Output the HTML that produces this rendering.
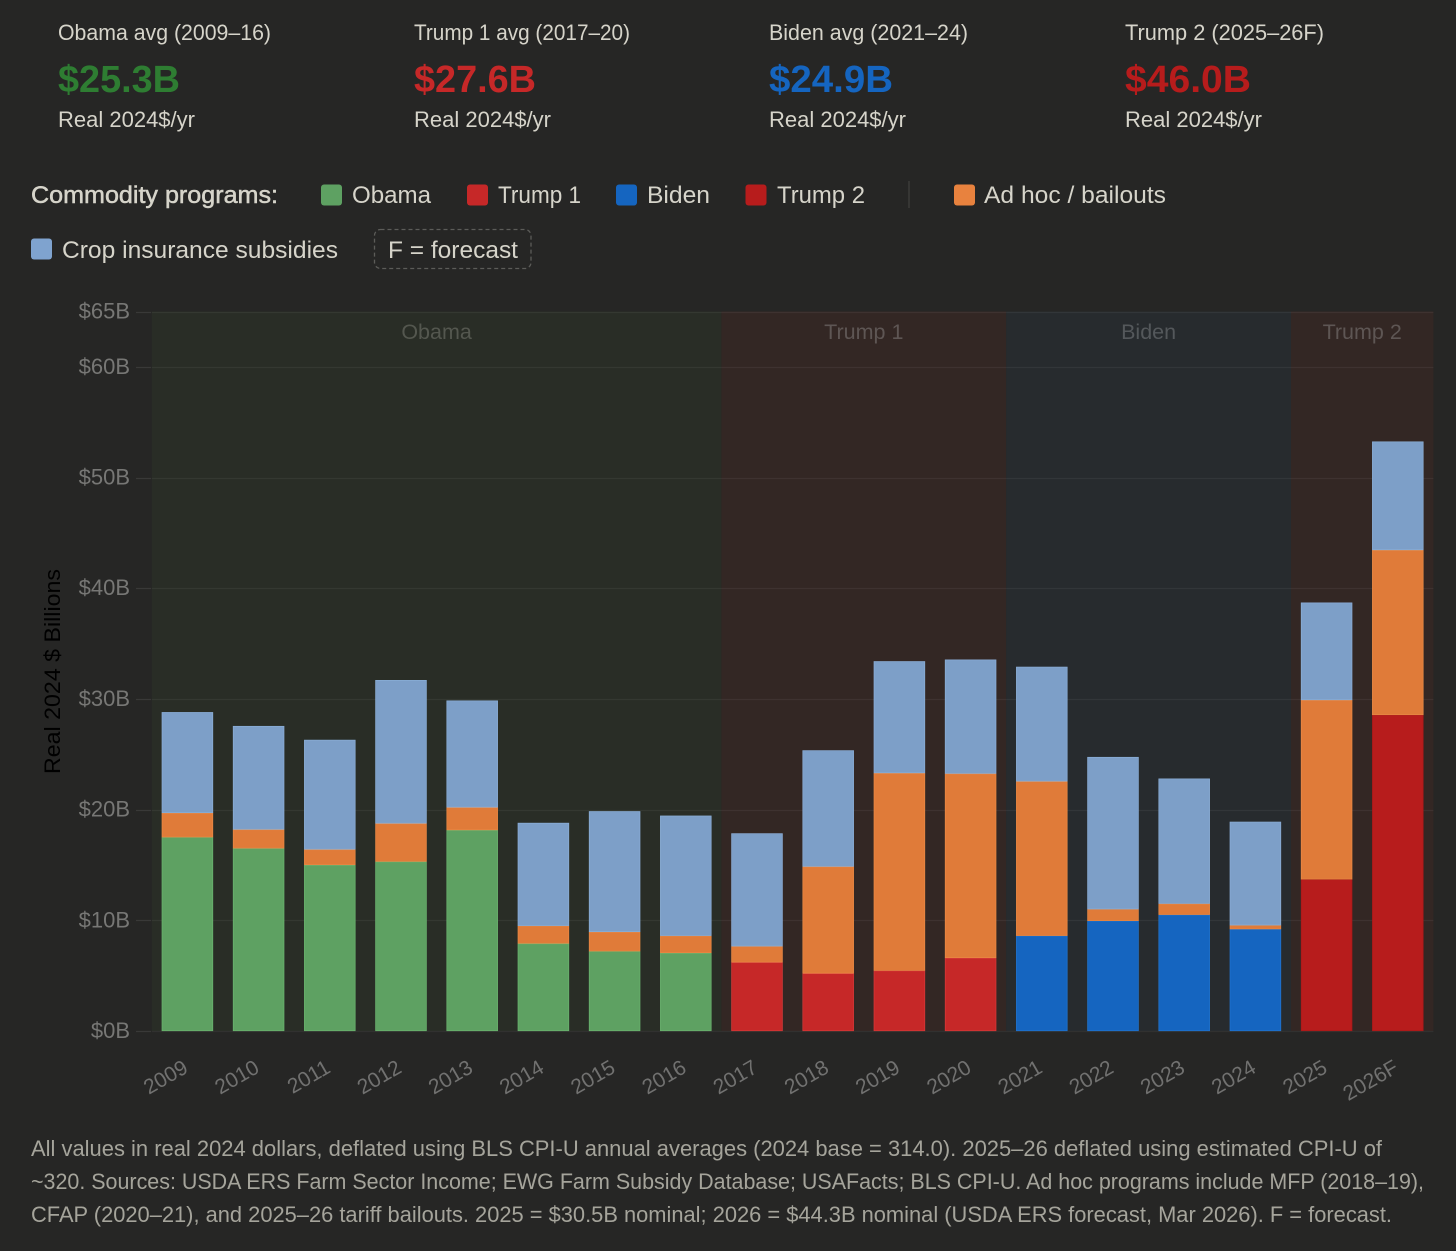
<!DOCTYPE html>
<html lang="en">
<head>
<meta charset="utf-8">
<title>Farm subsidies by administration</title>
<style>
  html, body { margin: 0; padding: 0; background: #262625; }
  body { width: 1456px; height: 1251px; overflow: hidden; }
  svg { display: block; }
  text { font-family: "Liberation Sans", sans-serif; }
  .label { fill: #d6d4ca; font-size: 22px; }
  .big { font-size: 38px; font-weight: 700; }
  .legend { fill: #d6d4ca; font-size: 24px; }
  .note { fill: #a5a49b; font-size: 22px; }
</style>
</head>
<body>
<svg id="chart" width="1456" height="1251" viewBox="0 0 1456 1251" xmlns="http://www.w3.org/2000/svg">
  <rect width="1456" height="1251" fill="#262625"/>

  <g>
    <text class="label" x="58" y="40" textLength="213" lengthAdjust="spacingAndGlyphs">Obama avg (2009–16)</text>
    <text class="big" x="58" y="92" fill="#2e7d32" textLength="122" lengthAdjust="spacingAndGlyphs">$25.3B</text>
    <text class="label" x="58" y="127" textLength="137" lengthAdjust="spacingAndGlyphs">Real 2024$/yr</text>
  </g>
  <g>
    <text class="label" x="414" y="40" textLength="216" lengthAdjust="spacingAndGlyphs">Trump 1 avg (2017–20)</text>
    <text class="big" x="414" y="92" fill="#c62828" textLength="122" lengthAdjust="spacingAndGlyphs">$27.6B</text>
    <text class="label" x="414" y="127" textLength="137" lengthAdjust="spacingAndGlyphs">Real 2024$/yr</text>
  </g>
  <g>
    <text class="label" x="769" y="40" textLength="199" lengthAdjust="spacingAndGlyphs">Biden avg (2021–24)</text>
    <text class="big" x="769" y="92" fill="#1565c0" textLength="124" lengthAdjust="spacingAndGlyphs">$24.9B</text>
    <text class="label" x="769" y="127" textLength="137" lengthAdjust="spacingAndGlyphs">Real 2024$/yr</text>
  </g>
  <g>
    <text class="label" x="1125" y="40" textLength="199" lengthAdjust="spacingAndGlyphs">Trump 2 (2025–26F)</text>
    <text class="big" x="1125" y="92" fill="#b71c1c" textLength="126" lengthAdjust="spacingAndGlyphs">$46.0B</text>
    <text class="label" x="1125" y="127" textLength="137" lengthAdjust="spacingAndGlyphs">Real 2024$/yr</text>
  </g>

  <g>
    <text class="legend" x="31" y="203" stroke="#d6d4ca" stroke-width="0.5" textLength="247" lengthAdjust="spacingAndGlyphs">Commodity programs:</text>
    <g>
      <rect x="321" y="184.500" width="21" height="21" rx="3" fill="#5ea162"/>
      <text class="legend" x="352" y="203" textLength="79" lengthAdjust="spacingAndGlyphs">Obama</text>
    </g>
    <g>
      <rect x="467" y="184.500" width="21" height="21" rx="3" fill="#c62828"/>
      <text class="legend" x="498" y="203" textLength="83" lengthAdjust="spacingAndGlyphs">Trump 1</text>
    </g>
    <g>
      <rect x="616" y="184.500" width="21" height="21" rx="3" fill="#1565c0"/>
      <text class="legend" x="647" y="203" textLength="63" lengthAdjust="spacingAndGlyphs">Biden</text>
    </g>
    <g>
      <rect x="745.500" y="184.500" width="21" height="21" rx="3" fill="#b71c1c"/>
      <text class="legend" x="777" y="203" textLength="88" lengthAdjust="spacingAndGlyphs">Trump 2</text>
    </g>
    <line x1="909" x2="909" y1="181" y2="208" stroke="#454543" stroke-width="1"/>
    <g>
      <rect x="954" y="184.500" width="21" height="21" rx="3" fill="#e8823e"/>
      <text class="legend" x="984" y="203" textLength="182" lengthAdjust="spacingAndGlyphs">Ad hoc / bailouts</text>
    </g>
    <g>
      <rect x="31" y="238.500" width="21" height="21" rx="3" fill="#7fa3cf"/>
      <text class="legend" x="62" y="258" textLength="276" lengthAdjust="spacingAndGlyphs">Crop insurance subsidies</text>
    </g>
    <g>
      <rect x="374.500" y="229.500" width="156.500" height="39" rx="6" fill="none" stroke="#5c5c59" stroke-width="1.300" stroke-dasharray="4 3"/>
      <text class="legend" x="388" y="258" textLength="130" lengthAdjust="spacingAndGlyphs">F = forecast</text>
    </g>
  </g>

  <g id="plot"></g>

  <text transform="translate(60,671.500) rotate(-90)" text-anchor="middle" font-size="22" fill="#000000" textLength="205" lengthAdjust="spacingAndGlyphs">Real 2024 $ Billions</text>

  <g>
    <text class="note" x="31" y="1156" textLength="1351" lengthAdjust="spacingAndGlyphs">All values in real 2024 dollars, deflated using BLS CPI-U annual averages (2024 base = 314.0). 2025–26 deflated using estimated CPI-U of</text>
    <text class="note" x="31" y="1189" textLength="1393" lengthAdjust="spacingAndGlyphs">~320. Sources: USDA ERS Farm Sector Income; EWG Farm Subsidy Database; USAFacts; BLS CPI-U. Ad hoc programs include MFP (2018–19),</text>
    <text class="note" x="31" y="1222" textLength="1361" lengthAdjust="spacingAndGlyphs">CFAP (2020–21), and 2025–26 tariff bailouts. 2025 = $30.5B nominal; 2026 = $44.3B nominal (USDA ERS forecast, Mar 2026). F = forecast.</text>
  </g>
</svg>

<script>
const years = ['2009','2010','2011','2012','2013','2014','2015','2016','2017','2018','2019','2020','2021','2022','2023','2024','2025','2026F'];
const commodity = [17.5,16.5,15.0,15.3,18.15,7.9,7.2,7.05,6.2,5.2,5.45,6.6,8.6,9.95,10.5,9.2,13.7,28.55];
const adHoc = [2.2,1.7,1.4,3.45,2.05,1.6,1.75,1.55,1.45,9.65,17.85,16.65,13.95,1.05,1.0,0.35,16.2,14.9];
const cropInsurance = [9.1,9.35,9.9,12.95,9.65,9.3,10.9,10.85,10.2,10.5,10.1,10.3,10.35,13.75,11.3,9.35,8.8,9.8];
const yTicks = [0,10,20,30,40,50,60,65];
const eraNames = ['Obama','Trump 1','Biden','Trump 2'];
const eraYears = [8,4,4,2];

const NS = 'http://www.w3.org/2000/svg';
const plot = document.getElementById('plot');
const plotLeft = 151.8, plotRight = 1433.4, plotBottom = 1031, plotTop = 311.5, yMax = 65;
const step = (plotRight - plotLeft) / years.length;
const barWidth = 51.3;
const eraFill = ['#292d26','#332724','#272b2e','#332724'];
const eraLabelFill = ['#54574f','#5e5654','#54585b','#5e5654'];
const commodityFill = ['#5ea162','#c62828','#1565c0','#b71c1c'];
const commodityEdge = ['#6cb670','#d83a3a','#2276d2','#a81818'];

function xBand(i) { return plotLeft + i * step; }
function xCenter(i) { return xBand(i) + step / 2; }
function yScale(v) { return plotBottom - (v / yMax) * (plotBottom - plotTop); }
function make(tag, attrs) {
  const el = document.createElementNS(NS, tag);
  for (const k in attrs) el.setAttribute(k, attrs[k]);
  return el;
}

// era background bands
let eraStart = 0;
eraNames.forEach(function (name, e) {
  const band = make('rect', { x: xBand(eraStart), y: plotTop, width: eraYears[e] * step, height: plotBottom - plotTop, fill: eraFill[e] });
  
  
  plot.appendChild(band);
  eraStart += eraYears[e];
});

// gridlines, tick marks and y labels
yTicks.forEach(function (t) {
  const y = Math.round(yScale(t)) + 0.5;
  const grid = make('line', { x1: plotLeft, x2: plotRight, y1: y, y2: y, stroke: 'rgba(255,255,255,0.055)', 'stroke-width': 1.2 });
  
  
  plot.appendChild(grid);
  const tick = make('line', { x1: 136, x2: 151, y1: y, y2: y, stroke: 'rgba(255,255,255,0.09)', 'stroke-width': 1.2 });
  
  
  plot.appendChild(tick);
  const label = make('text', { x: 130, y: yScale(t) + 7, 'text-anchor': 'end', 'font-size': 22, fill: '#777775' });
  
  
  label.textContent = '$' + t + 'B';
  plot.appendChild(label);
});

// era labels sit above the gridlines
eraStart = 0;
eraNames.forEach(function (name, e) {
  const label = make('text', { x: xBand(eraStart) + eraYears[e] * step / 2, y: 339, 'text-anchor': 'middle', 'font-size': 21.500, fill: eraLabelFill[e] });
  
  
  label.textContent = name;
  plot.appendChild(label);
  eraStart += eraYears[e];
});

function eraOf(i) {
  let sum = 0;
  for (let e = 0; e < eraYears.length; e++) {
    sum += eraYears[e];
    if (i < sum) return e;
  }
  return eraYears.length - 1;
}

function drawSegment(i, from, value, fill, edge, name) {
  const top = yScale(from + value);
  const bottom = yScale(from);
  const seg = make('rect', {
    x: xCenter(i) - barWidth / 2 + 0.25,
    y: top + 0.25,
    width: barWidth - 0.5,
    height: Math.max(bottom - top - 0.5, 0.5),
    fill: fill,
    stroke: edge,
    'stroke-width': 0.7
  });
  
  
  plot.appendChild(seg);
}

// stacked bars and x labels
years.forEach(function (year, i) {
  const e = eraOf(i);
  drawSegment(i, 0, commodity[i], commodityFill[e], commodityEdge[e], 'bar-commodity-' + year);
  drawSegment(i, commodity[i], adHoc[i], '#e07b39', '#ea8a45', 'bar-ad-hoc-' + year);
  drawSegment(i, commodity[i] + adHoc[i], cropInsurance[i], '#7d9fc8', '#8cafd8', 'bar-crop-insurance-' + year);

  const ex = xCenter(i) + 2;
  const label = make('text', { x: ex, y: 1071.500, 'text-anchor': 'end', 'font-size': 21, fill: '#717170', transform: 'rotate(-30 ' + ex + ' 1071.5)' });
  
  
  label.textContent = year;
  plot.appendChild(label);
});
</script>
</body>
</html>
